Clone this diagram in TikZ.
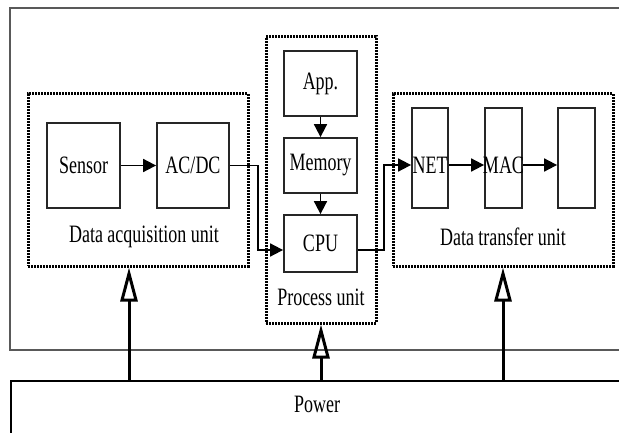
\documentclass[tikz,border=0pt]{standalone}
\usepackage{fontspec}
\setmainfont[FakeStretch=0.72]{Liberation Serif}
\usetikzlibrary{arrows.meta}
\begin{document}
\begin{tikzpicture}[x=1pt,y=-1pt,
  txt/.style={font=\fontsize{25}{29}\selectfont, inner sep=0pt},
  blk/.style={txt, draw=black!85, line width=1.8pt},
  unitbox/.style={draw=black, line width=3pt, dash pattern=on 2pt off 1pt, inner sep=0pt},
  arr/.style={-{Triangle[length=13pt,width=13pt]}, line width=1.8pt, draw=black},
  parr/.style={-{Triangle[open,length=34pt,width=17pt]}, line width=3pt, draw=black},
  frame/.style={draw=black!65, line width=2.2pt}]
\clip (0,0) rectangle (619,433);
\useasboundingbox (0,0) rectangle (619,433);
\fill[white] (0,0) rectangle (619,433);
% outer frame and power box
\draw[frame] (10,8) rectangle (640,350);
\node[draw=black, line width=1.8pt, minimum width=640pt, minimum height=80pt, anchor=north west, inner sep=0pt] (power) at (10,380) {};
\node[txt] (powerlbl) at (317,404) {Power};
% unit boxes
\node[unitbox, minimum width=220pt, minimum height=172pt] (daq) at (138,180) {};
\node[unitbox, minimum width=110pt, minimum height=286pt] (proc) at (321,180) {};
\node[unitbox, minimum width=220pt, minimum height=172pt] (dtu) at (503,180) {};
\node[txt] (daqlbl) at (144,237) {Data acquisition unit};
\node[txt] (proclbl) at (321,297) {Process unit};
\node[txt] (dtulbl) at (503,237) {Data transfer unit};
% blocks
\node[blk, minimum width=73pt, minimum height=85pt] (sensor) at (83.5,165.5) {Sensor};
\node[blk, minimum width=72pt, minimum height=85pt] (acdc) at (193,165.5) {AC/DC};
\node[blk, minimum width=73pt, minimum height=65pt] (app) at (320.5,83.5) {App.};
\node[blk, minimum width=73pt, minimum height=55pt] (mem) at (320.5,165.5) {Memory};
\node[blk, minimum width=73pt, minimum height=57pt] (cpu) at (320.5,243.5) {CPU};
\node[blk, minimum width=36pt, minimum height=100pt] (net) at (430,158) {\raisebox{-7pt}[\height][\depth]{\makebox[0pt]{NET}}};
\node[blk, minimum width=37pt, minimum height=100pt] (mac) at (503.5,158) {\raisebox{-7pt}[\height][\depth]{\makebox[0pt]{MAC}}};
\node[blk, minimum width=37pt, minimum height=100pt] (blank) at (576.5,158) {};
% connectors
\draw[arr] (sensor) -- (acdc);
\draw[arr] (app) -- (mem);
\draw[arr] (mem) -- (cpu);
\coordinate (j1) at (258,250);
\coordinate (j2) at (384,165);
\draw[arr] (acdc.east) -| (j1) |- ([yshift=-6.5pt]cpu.west);
\draw[arr] ([yshift=-6.5pt]cpu.east) -| (j2) |- ([yshift=-7pt]net.west);
\draw[arr] ([yshift=-7pt]net.east) -- ([yshift=-7pt]mac.west);
\draw[arr] ([yshift=-7pt]mac.east) -- ([yshift=-7pt]blank.west);
% power arrows
\coordinate (p1) at (129,380);
\coordinate (p2) at (321,380);
\coordinate (p3) at (503,380);
\draw[parr] (p1) -- (p1 |- daq.south);
\draw[parr] (p2) -- (p2 |- proc.south);
\draw[parr] (p3) -- (p3 |- dtu.south);
\end{tikzpicture}
\end{document}
